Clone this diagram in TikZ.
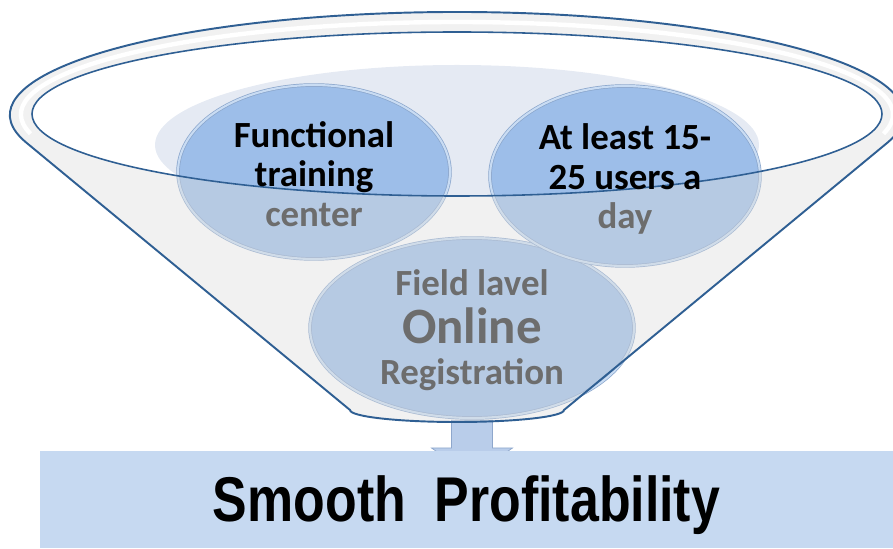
\documentclass[tikz,border=0pt]{standalone}
\usepackage{fontspec}
\setmainfont{Carlito}
\newfontfamily\narrowfont[FakeStretch=0.82]{Liberation Sans}
\usetikzlibrary{shapes.geometric,calc}
\definecolor{rimblue}{HTML}{2F5F93}
\definecolor{bubblefill}{HTML}{9DBEE9}
\definecolor{bubbleedge}{HTML}{89A5CB}
\definecolor{bubbleglow}{HTML}{C9DCF3}
\definecolor{palebg}{HTML}{E5EAF3}
\definecolor{txtgrey}{HTML}{6D6D6D}
\definecolor{boxblue}{HTML}{C6D9F1}
\definecolor{arrowfill}{HTML}{B9CDEA}
\definecolor{arrowedge}{HTML}{8EA7CC}
\definecolor{glassgrey}{HTML}{DCDCDC}
\def\funnelpath{(350,138) -- (26.4,405.3) arc[start angle=195.6,end angle=-15.6,x radius=447,y radius=103] -- (564,138) arc[start angle=0,end angle=-180,x radius=107,y radius=12] -- cycle}
\begin{document}
\begin{tikzpicture}[x=0.02cm,y=0.02cm,
    bubble/.style={ellipse,draw=bubbleedge,double=bubbleglow,double distance=1.2pt,fill=bubblefill,inner sep=0pt},
    bubbletext/.style={align=center,font=\bfseries\fontsize{21}{22.5}\selectfont},
    rim/.style={draw=rimblue,line width=1.1pt}]
\useasboundingbox (0,0) rectangle (893,548);
% opening of the funnel
\begin{scope}
  \clip (457,434) ellipse[x radius=425,y radius=82];
  \fill[palebg] (457,403) ellipse[x radius=302,y radius=80];
\end{scope}
\node[bubble,minimum width=6.48cm,minimum height=3.6cm] (reg) at (472,220) {};
\node[bubble,minimum width=5.44cm,minimum height=3.48cm] (train) at (314,376) {};
\node[bubble,minimum width=5.4cm,minimum height=3.6cm] (users) at (625,372) {};
\draw[draw=arrowedge,fill=arrowfill] ($(reg.south)+(-20.5,-2)$) -- ($(reg.south |- 0,100)+(-20.5,0)$) -- ++(-20,0)
  -- ($(reg.south |- 0,72)$) -- ($(reg.south |- 0,100)+(40.5,0)$) -- ++(-20,0) -- ($(reg.south)+(20.5,-2)$) -- cycle;
% glass of the funnel
\fill[glassgrey,fill opacity=0.4,even odd rule] \funnelpath (457,434) ellipse[x radius=425,y radius=82];
\draw[white,line width=2.5pt] ($(457,433.5)+(192:436 and 92.5)$) arc[start angle=192,end angle=-12,x radius=436,y radius=92.5];
\draw[rim] \funnelpath;
\draw[rim,line width=0.9pt] (457,434) ellipse[x radius=425,y radius=82];
\node[bubbletext] at ($(train)+(0,-2)$) {Functional\\training\\\textcolor{txtgrey}{center}};
\node[bubbletext] at ($(users)+(0,-3)$) {At least 15-\\25 users a\\\textcolor{txtgrey}{day}};
\node[bubbletext,text=txtgrey] at ($(reg)+(0,-2)$) {Field lavel\\[5pt]{\fontsize{29}{30}\selectfont Online}\\[1pt]Registration};
\node[fill=boxblue,minimum width=17.06cm,minimum height=1.94cm,inner sep=0pt,
  font=\narrowfont\bfseries\fontsize{36}{40}\selectfont] (profit) at (466.5,48.5) {\raisebox{-0.44cm}[0pt][0pt]{Smooth\ \ Profitability}};
\end{tikzpicture}
\end{document}
